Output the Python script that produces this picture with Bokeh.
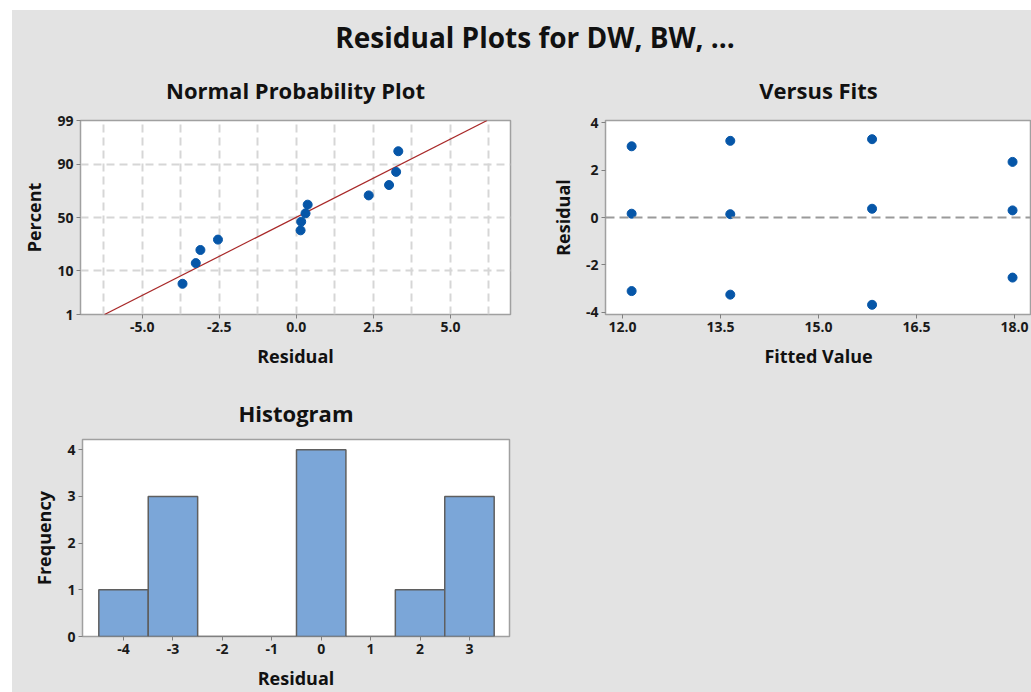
from statistics import NormalDist

from bokeh.plotting import figure
from bokeh.layouts import column, row
from bokeh.models import (Range1d, FixedTicker, CustomJSTickFormatter, Span,
                          Spacer, NumeralTickFormatter)
from bokeh.embed import file_html
from bokeh.resources import INLINE

# ---------------- data ----------------
main_title = "Residual Plots for DW, BW, ..."

# residuals grouped by fitted value (Versus Fits)
fitted = [12.14, 12.14, 12.14, 13.65, 13.65, 13.65,
          15.82, 15.82, 15.82, 17.97, 17.97, 17.97]
residual = [3.01, 0.16, -3.11, 3.24, 0.14, -3.26,
            3.31, 0.37, -3.69, 2.35, 0.30, -2.54]

# normal probability plot: sorted residuals and their plotting percents
npp_resid = [-3.69, -3.26, -3.11, -2.54, 0.14, 0.16, 0.30, 0.37,
             2.35, 3.01, 3.24, 3.31]
npp_pct = [5.6, 13.7, 21.8, 29.8, 37.9, 46.0, 54.0, 62.1,
           70.2, 78.2, 86.3, 94.4]
fit_line_resid = [-6.22, 6.19]
fit_line_pct = [1.0, 99.0]
pct_ticks = [1, 10, 50, 90, 99]
npp_xticks = [-5.0, -2.5, 0.0, 2.5, 5.0]
npp_xgrid = [-6.25, -5.0, -3.75, -2.5, -1.25, 0.0, 1.25, 2.5, 3.75, 5.0, 6.25]
npp_ygrid = [10, 50, 90]

# histogram
hist_centers = [-4, -3, -2, -1, 0, 1, 2, 3]
hist_counts = [1, 3, 0, 0, 4, 0, 1, 3]

fits_xticks = [12.0, 13.5, 15.0, 16.5, 18.0]
fits_yticks = [-4, -2, 0, 2, 4]
hist_yticks = [0, 1, 2, 3, 4]

# ---------------- styles ----------------
BG = "#E3E3E3"
FONT = "Open Sans"
PT = "#0656A8"
FRAME = "#A0A0A0"

nd = NormalDist()


def z(p):
    return nd.inv_cdf(p / 100.0)


def style(p, xlabel, ylabel, standoff):
    p.background_fill_color = "white"
    p.border_fill_color = BG
    p.outline_line_color = FRAME
    p.outline_line_width = 1.5
    p.title.text_font = FONT
    p.title.text_font_size = "22px"
    p.title.text_font_style = "bold"
    p.title.text_color = "#111111"
    p.title.align = "center"
    p.title.standoff = standoff
    p.xaxis.axis_label = xlabel
    p.yaxis.axis_label = ylabel
    for ax in (p.xaxis, p.yaxis):
        ax.axis_label_text_font = FONT
        ax.axis_label_text_font_size = "18px"
        ax.axis_label_text_font_style = "bold"
        ax.axis_label_text_color = "#111111"
        ax.major_label_text_font = FONT
        ax.major_label_text_font_size = "14px"
        ax.major_label_text_font_style = "bold"
        ax.major_label_text_color = "#1A1A1A"
        ax.axis_line_color = None
        ax.major_tick_line_color = "#808080"
        ax.major_tick_in = 0
        ax.major_tick_out = 4
        ax.minor_tick_line_color = None
        ax.major_label_standoff = 3
    p.xaxis.axis_label_standoff = 9
    p.yaxis.axis_label_standoff = 8


# ---------------- title strip ----------------
tf = figure(width=1019, height=46, toolbar_location=None, output_backend="svg",
            x_range=(0, 1), y_range=(0, 1), min_border=0, min_border_left=26,
            min_border_top=45)
tf.title.text = main_title
tf.title.text_font = FONT
tf.title.text_font_size = "28px"
tf.title.text_font_style = "bold"
tf.title.text_color = "#111111"
tf.title.align = "center"
tf.title.standoff = 0
tf.axis.visible = False
tf.grid.visible = False
tf.outline_line_color = None
tf.background_fill_color = BG
tf.border_fill_color = BG

# ---------------- normal probability plot ----------------
pa = figure(width=528, height=324, toolbar_location=None, output_backend="svg",
            title="Normal Probability Plot",
            x_range=Range1d(-7.0, 6.95), y_range=Range1d(z(1), z(99)),
            min_border_left=68, min_border_right=30,
            min_border_top=64, min_border_bottom=66)
style(pa, "Residual", "Percent", 31)
pa.xaxis.ticker = FixedTicker(ticks=npp_xticks)
pa.xaxis.formatter = NumeralTickFormatter(format="0.0")
zt = [z(v) for v in pct_ticks]
pa.yaxis.ticker = FixedTicker(ticks=zt)
pa.yaxis.formatter = CustomJSTickFormatter(
    args=dict(zvals=zt, labs=[str(v) for v in pct_ticks]),
    code="for (let i = 0; i < zvals.length; i++) {"
         " if (Math.abs(tick - zvals[i]) < 1e-6) return labs[i]; }"
         " return '';")
pa.xgrid.ticker = FixedTicker(ticks=npp_xgrid)
pa.ygrid.ticker = FixedTicker(ticks=[z(v) for v in npp_ygrid])
for g in (pa.xgrid, pa.ygrid):
    g.grid_line_color = "#D6D6D6"
    g.grid_line_width = 2
    g.grid_line_dash = "8 5"
pa.line([fit_line_resid[0], fit_line_resid[1]],
        [z(fit_line_pct[0]), z(fit_line_pct[1])],
        line_color="#A82828", line_width=1.2)
pa.scatter(npp_resid, [z(v) for v in npp_pct], size=9,
           fill_color=PT, line_color=PT)

# ---------------- versus fits ----------------
pb = figure(width=491, height=324, toolbar_location=None, output_backend="svg",
            title="Versus Fits",
            x_range=Range1d(11.74, 18.26), y_range=Range1d(-4.1, 4.1),
            min_border_left=65, min_border_right=0,
            min_border_top=64, min_border_bottom=66)
style(pb, "Fitted Value", "Residual", 31)
pb.grid.visible = False
pb.xaxis.ticker = FixedTicker(ticks=fits_xticks)
pb.xaxis.formatter = NumeralTickFormatter(format="0.0")
pb.yaxis.ticker = FixedTicker(ticks=fits_yticks)
pb.yaxis.formatter = NumeralTickFormatter(format="0")
pb.add_layout(Span(location=0, dimension="width", line_color="#9A9A9A",
                   line_width=2, line_dash="9 5"))
pb.scatter(fitted, residual, size=9, fill_color=PT, line_color=PT)

# ---------------- histogram ----------------
pc = figure(width=1019, height=312, toolbar_location=None, output_backend="svg",
            title="Histogram",
            x_range=Range1d(-4.83, 3.81), y_range=Range1d(0, 4.22),
            min_border_left=70, min_border_right=522,
            min_border_top=59, min_border_bottom=53)
style(pc, "Residual", "Frequency", 24)
pc.grid.visible = False
pc.xaxis.ticker = FixedTicker(ticks=hist_centers)
pc.xaxis.formatter = NumeralTickFormatter(format="0")
pc.yaxis.ticker = FixedTicker(ticks=hist_yticks)
pc.yaxis.formatter = NumeralTickFormatter(format="0")
pc.vbar(x=hist_centers, top=hist_counts, width=1.0, bottom=0,
        fill_color="#7BA6D8", line_color="#5F5F5F", line_width=1.5)

inner = column(row(tf), row(pa, pb), row(pc),
               styles={"background-color": BG})
layout = column(Spacer(height=10), row(Spacer(width=12), inner))

open("out.html", "w").write(file_html(layout, INLINE))
